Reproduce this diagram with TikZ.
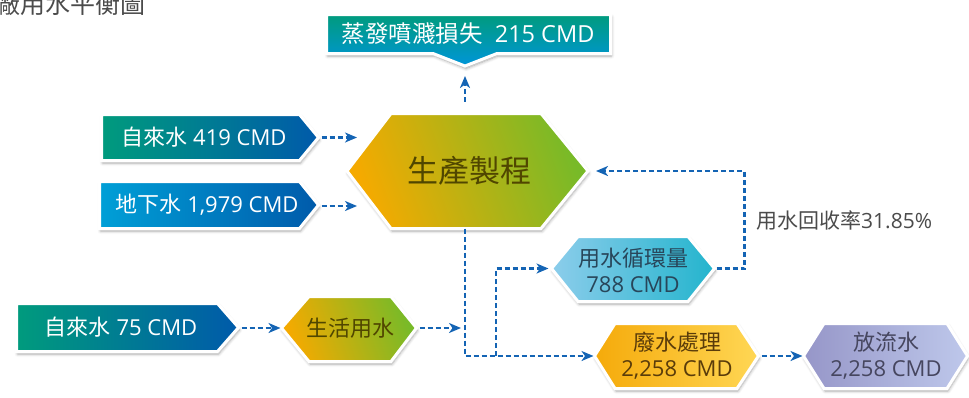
\documentclass[tikz,border=0pt]{standalone}
\usepackage{fontspec}
\setmainfont{Open Sans}
\newfontfamily\cjk{Noto Sans CJK TC}
\usetikzlibrary{arrows.meta,shadows.blur}
\definecolor{flowblue}{RGB}{20,100,180}
\definecolor{tealgreen}{RGB}{0,155,125}
\definecolor{skyblue}{RGB}{0,160,225}
\definecolor{deepblue}{RGB}{0,90,170}
\definecolor{procorange}{RGB}{245,170,0}
\definecolor{procgreen}{RGB}{120,186,40}
\definecolor{prodtext}{RGB}{80,70,0}
\definecolor{cycleleft}{RGB}{140,205,235}
\definecolor{cycleright}{RGB}{35,180,205}
\definecolor{cycletext}{RGB}{40,70,90}
\definecolor{wwleft}{RGB}{245,170,10}
\definecolor{wwright}{RGB}{255,215,85}
\definecolor{wwtext}{RGB}{90,60,10}
\definecolor{disleft}{RGB}{150,150,200}
\definecolor{disright}{RGB}{190,200,235}
\definecolor{distext}{RGB}{70,70,95}
\definecolor{labelgray}{RGB}{75,75,75}
\tikzset{
  dropshade/.style={blur shadow={shadow xshift=1pt,shadow yshift=-2.5pt,shadow blur steps=6,shadow blur radius=3pt,shadow opacity=35}},
  panel/.style={draw=white,line width=3pt,line join=miter,dropshade},
  cardtext/.style={inner sep=0pt,text=white,font=\fontsize{22}{24}\selectfont},
  hextext/.style={inner sep=0pt,align=center,font=\fontsize{22}{26}\selectfont},
  flow/.style={draw=flowblue,line width=2.5pt,dash pattern=on 5pt off 3pt,
    -{Stealth[length=12pt,width=10pt,inset=3.5pt]}},
}
\begin{document}
\begin{tikzpicture}[x=1pt,y=-1pt]
\useasboundingbox (0,0) rectangle (969,397);
% title
\node[anchor=west,inner sep=0pt,text=labelgray,font=\cjk\fontsize{25}{25}\selectfont] (title) at (-5,4) {廠用水平衡圖};
% loss box
\path[panel,top color=tealgreen,bottom color=skyblue!85!deepblue]
  (326.5,14.5) -- (610.5,14.5) -- (610.5,53.5) -- (497,53.5) -- (465,66) coordinate (lossP)
  -- (433,53.5) -- (326.5,53.5) -- cycle;
\node[cardtext,font=\fontsize{23.5}{25}\selectfont] (loss) at (468,34) {{\cjk 蒸發噴濺損失}\ \ 215 CMD};
% inputs
\path[panel,left color=tealgreen,middle color=skyblue,right color=deepblue]
  (101.5,114.5) -- (299.5,114.5) -- (318.5,137.5) coordinate (tap419E) -- (299.5,160.5) -- (101.5,160.5) -- cycle;
\node[cardtext] (tap419) at (204,137.5) {{\cjk 自來水} 419 CMD};
\path[panel,left color=skyblue!90!tealgreen,right color=deepblue]
  (99.5,181.5) -- (299.5,181.5) -- (318.5,205) coordinate (wellE) -- (299.5,228.5) -- (99.5,228.5) -- cycle;
\node[cardtext] (well) at (207,205) {{\cjk 地下水} 1,979 CMD};
\path[panel,left color=tealgreen,middle color=skyblue,right color=deepblue]
  (16.5,303.5) -- (217.5,303.5) -- (238.5,327.5) coordinate (tap75E) -- (217.5,351.5) -- (16.5,351.5) -- cycle;
\node[cardtext] (tap75) at (121,327.5) {{\cjk 自來水} 75 CMD};
% process
\path[panel,left color=procorange,right color=procgreen,shading angle=110]
  (347,171) coordinate (prodW) -- (391,113.5) -- (465,113.5) coordinate (prodN) -- (541,113.5)
  -- (588,171) coordinate (prodE) -- (541,228.5) -- (465,228.5) coordinate (prodS) -- (391,228.5) -- cycle;
\node[hextext,text=prodtext,font=\cjk\fontsize{31}{31}\selectfont] (prod) at (469,171) {生產製程};
\path[panel,left color=procorange,right color=procgreen,shading angle=110]
  (281.5,328) coordinate (domW) -- (309,296.5) -- (391,296.5) -- (416.5,328) coordinate (domE)
  -- (391,361.5) -- (309,361.5) -- cycle;
\node[hextext,text=prodtext,font=\cjk\fontsize{22}{26}\selectfont] (domestic) at (350,328) {生活用水};
\path[panel,left color=cycleleft,right color=cycleright]
  (551.5,268.5) coordinate (cycW) -- (578,236.5) -- (688,236.5) -- (714.5,268.5) coordinate (cycE)
  -- (688,301.5) -- (578,301.5) -- cycle;
\node[hextext,text=cycletext] (cycle) at (633,270) {{\cjk 用水循環量}\\788 CMD};
\path[panel,left color=wwleft,right color=wwright]
  (594.5,356) coordinate (wwW) -- (615,323.5) -- (737,323.5) -- (758.5,356) coordinate (wwE)
  -- (737,388.5) -- (615,388.5) -- cycle;
\node[hextext,text=wwtext] (ww) at (677,356) {{\cjk 廢水處理}\\2,258 CMD};
\path[panel,left color=disleft,right color=disright]
  (803.5,356) coordinate (disW) -- (824,323.5) -- (947,323.5) -- (967.5,356)
  -- (947,388.5) -- (824,388.5) -- cycle;
\node[hextext,text=distext] (dis) at (886,356) {{\cjk 放流水}\\2,258 CMD};
% connectors
\coordinate (in1) at (357,137.5);
\coordinate (in2) at (357,206);
\coordinate (br) at (496,356);
\draw[flow,shorten <=3pt] (tap419E) -- (in1);
\draw[flow,shorten <=3pt] (wellE |- in2) -- (in2);
\draw[flow,shorten <=12pt,shorten >=10pt] (prodN) -- (lossP);
\draw[flow,shorten <=3pt,shorten >=1pt] (tap75E |- domW) -- (domW);
\draw[flow,shorten <=3pt,shorten >=4pt] (domE) -- (prodS |- domE);
\draw[flow,shorten >=1pt] (prodS) -- (prodS |- br) -- (br -| wwW);
\draw[flow,shorten >=3pt] (br) |- (cycW);
\draw[flow,shorten <=2pt,shorten >=8pt] (cycE) -- ++(30,0) |- (prodE);
\draw[flow,shorten <=3pt,shorten >=1pt] (wwE) -- (disW);
\node[anchor=west,inner sep=0pt,text=labelgray,font=\fontsize{21}{21}\selectfont] (rate) at (756,220) {{\cjk 用水回收率}31.85\%};
\end{tikzpicture}
\end{document}
